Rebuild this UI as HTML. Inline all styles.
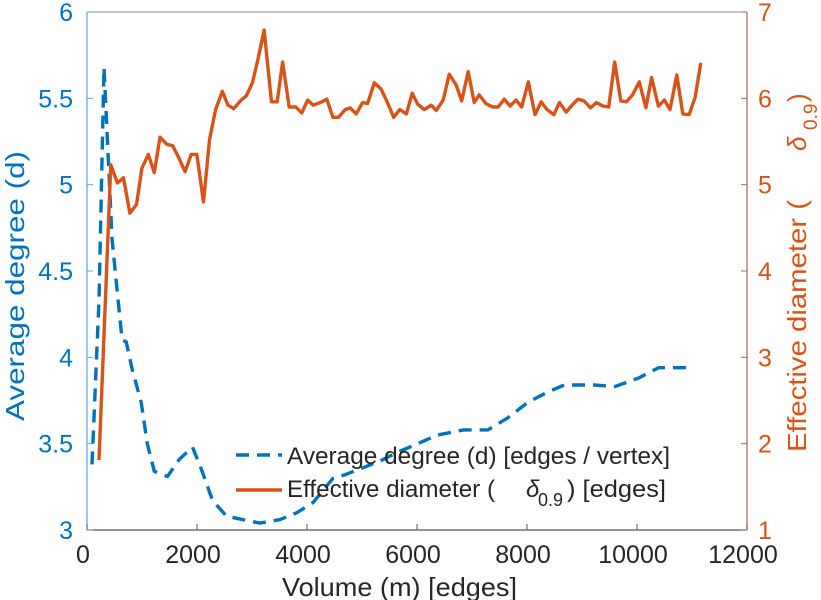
<!DOCTYPE html>
<html><head><meta charset="utf-8"><style>
body{margin:0;background:#fff;}
svg{display:block;font-family:"Liberation Sans",sans-serif;}
</style></head><body>
<svg id="chart" width="821" height="600" viewBox="0 0 821 600">
<g id="axes"></g>
<g id="series"></g>
<g id="legend">
 <line x1="236" y1="455" x2="282" y2="455" stroke="#0072BD" stroke-width="3.4" stroke-dasharray="13,8"/>
 <text x="287" y="464" font-size="24" textLength="383" lengthAdjust="spacingAndGlyphs" fill="#262626">Average degree (d) [edges / vertex]</text>
 <line x1="236" y1="490" x2="282" y2="490" stroke="#D95319" stroke-width="3.4"/>
 <text x="287" y="497" font-size="24" textLength="208" lengthAdjust="spacingAndGlyphs" fill="#262626">Effective diameter (</text>
 <text x="526" y="497" font-size="24" font-style="italic" fill="#262626">δ</text>
 <text x="538" y="506" font-size="18" fill="#262626">0.9</text>
 <text x="567" y="497" font-size="24" textLength="99" lengthAdjust="spacingAndGlyphs" fill="#262626">) [edges]</text>
</g>
</svg>
<script>
const xTicks=[0,2000,4000,6000,8000,10000,12000];
const leftTicks=[3,3.5,4,4.5,5,5.5,6];
const rightTicks=[1,2,3,4,5,6,7];
const degX=[91,219,310,457,639,712,822,986,1096,1224,1461,1680,1918,2082,2283,2539,2831,3142,3507,3817,4110,4475,4694,5333,5644,6009,6374,6849,7288,7653,8018,8384,8676,9224,9589,10028,10393,10959];
const degY=[3.38,4.33,5.68,4.68,4.10,4.09,3.93,3.74,3.50,3.34,3.31,3.41,3.48,3.35,3.17,3.08,3.06,3.04,3.06,3.10,3.16,3.30,3.32,3.40,3.45,3.50,3.55,3.58,3.58,3.65,3.74,3.80,3.84,3.84,3.83,3.88,3.94,3.94];
const diaX=[219,433,553,663,780,900,999,1114,1224,1328,1448,1558,1662,1784,1894,1996,2119,2228,2338,2460,2563,2667,2789,2899,3008,3111,3220,3355,3458,3556,3677,3799,3903,4013,4115,4238,4360,4470,4572,4694,4785,4895,5010,5101,5224,5346,5456,5576,5686,5808,5912,6015,6137,6259,6351,6476,6586,6708,6813,6930,7040,7131,7251,7374,7476,7586,7695,7800,7903,8024,8146,8256,8366,8488,8590,8712,8818,8926,9036,9156,9261,9383,9486,9595,9705,9809,9919,10042,10162,10266,10389,10498,10600,10723,10832,10947,11057,11160];
const diaY=[1.81,5.23,5.02,5.08,4.67,4.77,5.19,5.35,5.14,5.55,5.47,5.45,5.32,5.15,5.35,5.35,4.80,5.52,5.87,6.08,5.92,5.88,5.97,6.03,6.18,6.46,6.79,5.96,5.96,6.42,5.90,5.90,5.83,5.98,5.92,5.95,5.99,5.78,5.78,5.87,5.89,5.82,5.95,5.94,6.18,6.11,5.96,5.78,5.87,5.82,6.06,5.93,5.87,5.92,5.86,5.98,6.28,6.16,5.97,6.31,5.95,6.04,5.94,5.90,5.90,5.99,5.91,5.98,5.90,6.19,5.81,5.96,5.87,5.81,5.95,5.84,5.92,5.99,5.97,5.89,5.95,5.91,5.90,6.42,5.97,5.96,6.04,6.19,5.89,6.24,5.91,5.98,5.87,6.27,5.82,5.81,6.01,6.41];

const X0=87,X1=747,T=12,B=530;
const sx=v=>X0+(v-0)/(12000-0)*(X1-X0);
const syL=v=>B-(v-3)/(6-3)*(B-T);
const syR=v=>B-(v-1)/(7-1)*(B-T);
const NS='http://www.w3.org/2000/svg';
function mk(tag,attrs,parent,text){const e=document.createElementNS(NS,tag);for(const k in attrs)e.setAttribute(k,attrs[k]);if(text!==undefined)e.textContent=text;parent.appendChild(e);return e;}
const axes=document.getElementById('axes');
const series=document.getElementById('series');

let e;
e=mk('line',{x1:X0,y1:T,x2:X1,y2:T,stroke:'#8c8c8c','stroke-width':1},axes);


e=mk('line',{x1:X0,y1:B,x2:X1,y2:B,stroke:'#555','stroke-width':1.2},axes);


e=mk('line',{x1:X0,y1:T,x2:X0,y2:B,stroke:'#5fa4d8','stroke-width':1.2},axes);


e=mk('line',{x1:X1,y1:T,x2:X1,y2:B,stroke:'#a0685a','stroke-width':1.2},axes);



xTicks.forEach(t=>{
 const x=sx(t);
 e=mk('line',{x1:x,y1:B,x2:x,y2:B-6,stroke:'#555'},axes);
 
 
 e=mk('text',{x:x-4,y:563,'font-size':25,fill:'#262626','text-anchor':'middle'},axes,String(t));
 
 
});
leftTicks.forEach(t=>{
 const y=syL(t);
 e=mk('line',{x1:X0,y1:y,x2:X0+6,y2:y,stroke:'#5fa4d8'},axes);
 
 
 e=mk('text',{x:73,y:y+9,'font-size':25,fill:'#0072BD','text-anchor':'end'},axes,String(t));
 
 
});
rightTicks.forEach(t=>{
 const y=syR(t);
 e=mk('line',{x1:X1,y1:y,x2:X1-6,y2:y,stroke:'#a0685a'},axes);
 
 
 e=mk('text',{x:X1+11,y:y+9,'font-size':25,fill:'#D95319','text-anchor':'start'},axes,String(t));
 
 
});
e=mk('text',{x:282,y:596,'font-size':26,fill:'#262626',textLength:235,lengthAdjust:'spacingAndGlyphs'},axes,'Volume (m) [edges]');


e=mk('text',{x:0,y:0,'font-size':26,fill:'#0072BD',textLength:270,lengthAdjust:'spacingAndGlyphs',transform:'translate(24,421) rotate(-90)'},axes,'Average degree (d)');


e=mk('text',{x:0,y:0,'font-size':26,fill:'#D95319',textLength:252,lengthAdjust:'spacingAndGlyphs',transform:'translate(806,452) rotate(-90)'},axes,'Effective diameter (');


e=mk('text',{x:0,y:0,'font-size':26,'font-style':'italic',fill:'#D95319',transform:'translate(806,151) rotate(-90)'},axes,'δ');


e=mk('text',{x:0,y:0,'font-size':19,fill:'#D95319',transform:'translate(817,130) rotate(-90)'},axes,'0.9');


e=mk('text',{x:0,y:0,'font-size':26,fill:'#D95319',transform:'translate(806,102) rotate(-90)'},axes,')');



const dP=degX.map((v,i)=>sx(v).toFixed(1)+','+syL(degY[i]).toFixed(1)).join(' ');
e=mk('polyline',{points:dP,fill:'none',stroke:'#0072BD','stroke-width':3.4,'stroke-dasharray':'13,8','stroke-linejoin':'round'},series);


const rP=diaX.map((v,i)=>sx(v).toFixed(1)+','+syR(diaY[i]).toFixed(1)).join(' ');
e=mk('polyline',{points:rP,fill:'none',stroke:'#D95319','stroke-width':3.4,'stroke-linejoin':'round'},series);


</script>
</body></html>
